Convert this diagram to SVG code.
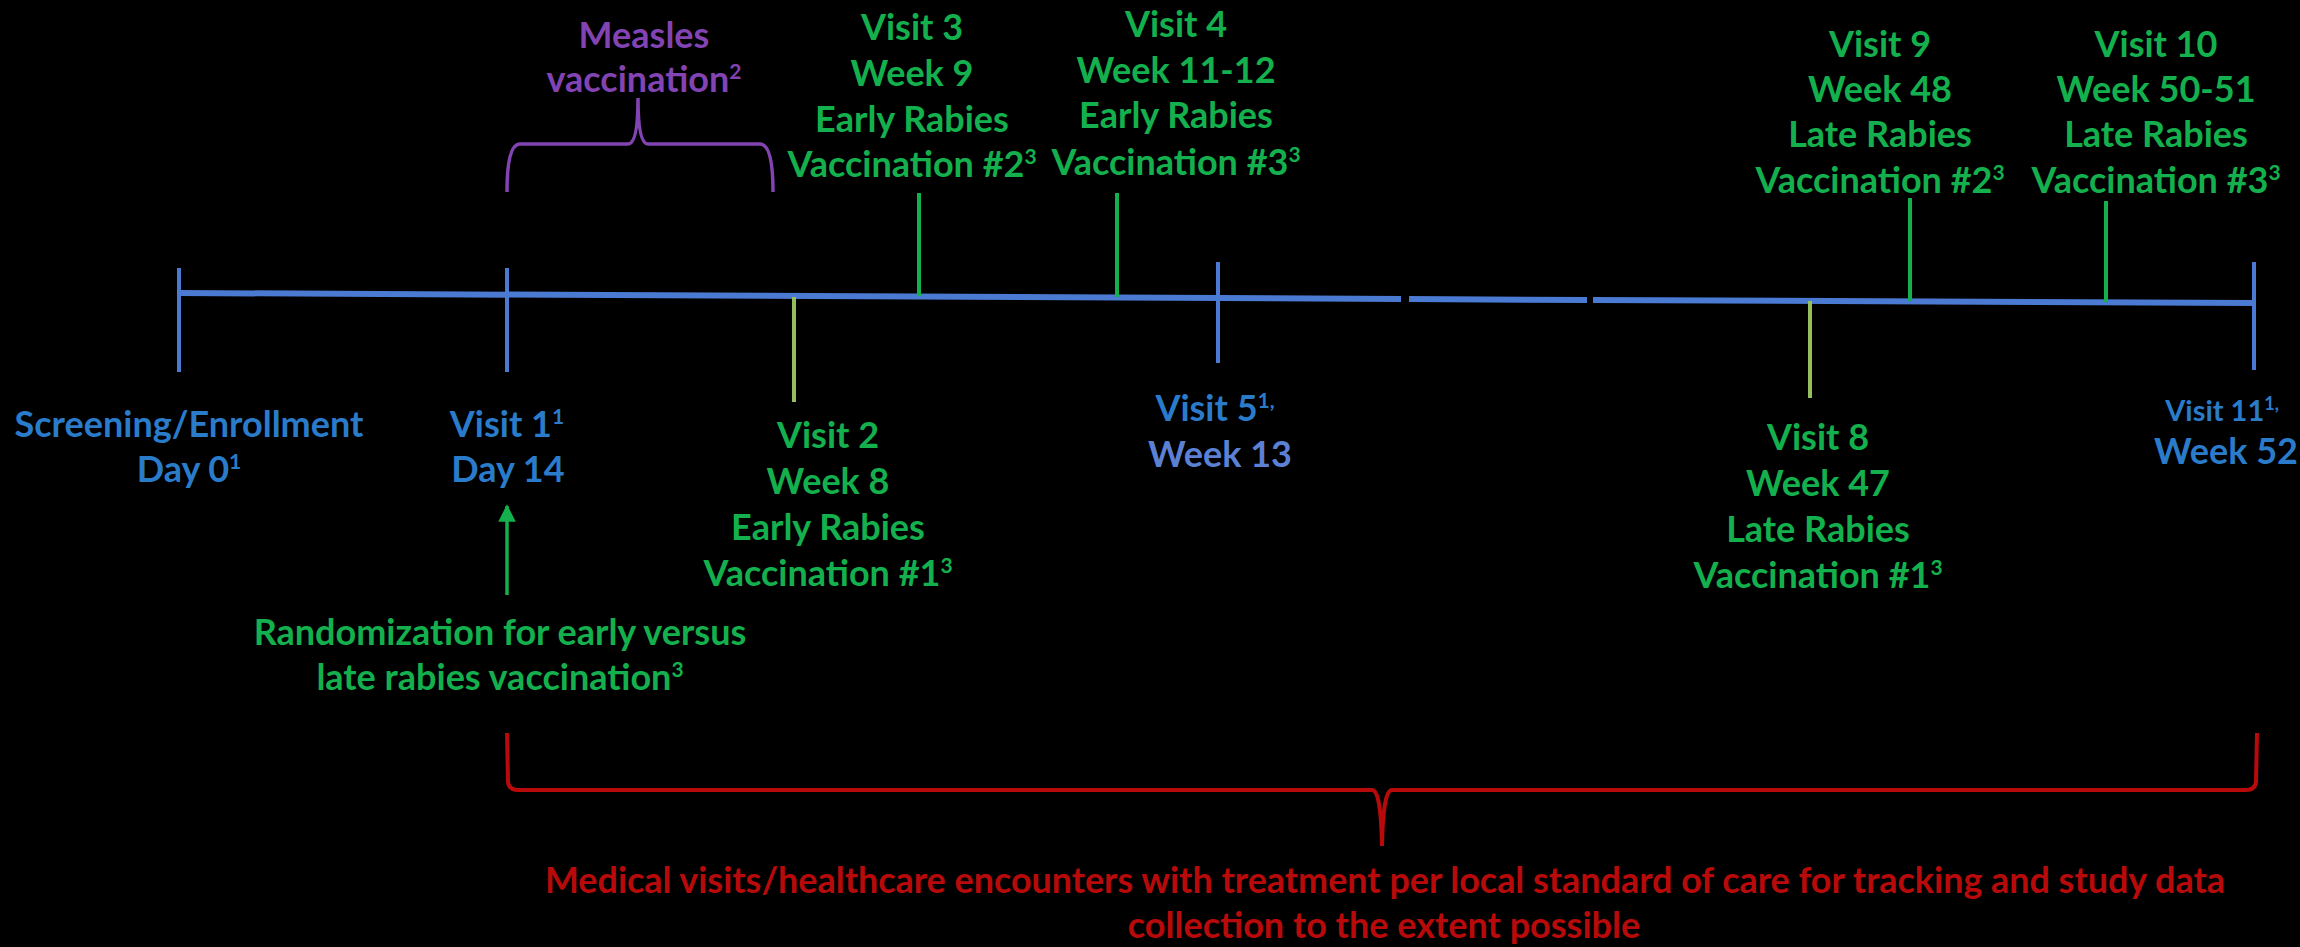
<svg xmlns="http://www.w3.org/2000/svg" width="2300" height="947" viewBox="0 0 2300 947">
<defs>
<style>
text{font-family:Lato,"Open Sans","Liberation Sans",sans-serif;font-weight:bold;font-size:36px;text-anchor:middle}
.g{fill:#14B04E}
.b{fill:#2A7CCB}
.b2{fill:#5B80D4}
.p{fill:#8243B3}
.r{fill:#B80A0A}
.tl{stroke:#4A7AD2;stroke-width:6;fill:none}
.tb{stroke:#4A7AD2;stroke-width:4;fill:none}
.tg{stroke:#14B04E;stroke-width:4;fill:none}
.ty{stroke:#96BE5A;stroke-width:4;fill:none}
.sup{font-size:21px}
</style>
<marker id="ah" viewBox="0 0 10 10" refX="9" refY="5" markerWidth="5" markerHeight="5" orient="auto-start-reverse">
<path d="M0,0 L10,5 L0,10 z" fill="#14B04E"/>
</marker>
</defs>
<rect width="2300" height="947" fill="#000"/>

<g id="connectors">
<line class="tl" x1="179" y1="293" x2="1401" y2="299"/>
<line class="tl" x1="1409" y1="299" x2="1587" y2="300"/>
<line class="tl" x1="1593" y1="300" x2="2254" y2="303"/>
<line class="tb" x1="179" y1="268" x2="179" y2="372"/>
<line class="tb" x1="507" y1="268" x2="507" y2="372"/>
<line class="ty" x1="794" y1="297" x2="794" y2="402"/>
<line class="tg" x1="919" y1="193" x2="919" y2="296"/>
<line class="tg" x1="1117" y1="193" x2="1117" y2="297"/>
<line class="tb" x1="1218" y1="262" x2="1218" y2="363"/>
<line class="ty" x1="1810" y1="301" x2="1810" y2="398"/>
<line class="tg" x1="1910" y1="198" x2="1910" y2="301"/>
<line class="tg" x1="2106" y1="201" x2="2106" y2="302"/>
<line class="tb" x1="2254" y1="262" x2="2254" y2="370"/>
<line x1="507" y1="595" x2="507" y2="506" stroke="#14B04E" stroke-width="3.5" marker-end="url(#ah)"/>
<path d="M507,192 Q507,144 520,144 L628,144 Q638,144 638,98 Q638,144 648,144 L760,144 Q773,144 773,192" fill="none" stroke="#8243B3" stroke-width="3.5"/>
<path d="M507,733 L508,782 Q509,790 518,790 L1372,790 Q1381,790 1382,846 Q1383,790 1392,790 L2246,790 Q2255,790 2256,782 L2257,733" fill="none" stroke="#B80A0A" stroke-width="4"/>
</g>

<g id="measles">
<text class="p" x="644" y="48">Measles</text>
<text class="p" x="644" y="92">vaccination<tspan class="sup" dy="-13">2</tspan></text>
</g>

<g id="screening">
<text class="b" x="189" y="437">Screening/Enrollment</text>
<text class="b" x="189" y="482">Day 0<tspan class="sup" dy="-13">1</tspan></text>
</g>

<g id="visit1">
<text class="b" x="507" y="437">Visit 1<tspan class="sup" dy="-13">1</tspan></text>
<text class="b" x="508" y="482">Day 14</text>
</g>

<g id="randomization">
<text class="g" x="500" y="645">Randomization for early versus</text>
<text class="g" x="500" y="690">late rabies vaccination<tspan class="sup" dy="-13">3</tspan></text>
</g>

<g id="visit2">
<text class="g" x="828" y="448">Visit 2</text>
<text class="g" x="828" y="494">Week 8</text>
<text class="g" x="828" y="540">Early Rabies</text>
<text class="g" x="828" y="586">Vaccination #1<tspan class="sup" dy="-13">3</tspan></text>
</g>

<g id="visit3">
<text class="g" x="912" y="40">Visit 3</text>
<text class="g" x="912" y="86">Week 9</text>
<text class="g" x="912" y="132">Early Rabies</text>
<text class="g" x="912" y="177">Vaccination #2<tspan class="sup" dy="-13">3</tspan></text>
</g>

<g id="visit4">
<text class="g" x="1176" y="37">Visit 4</text>
<text class="g" x="1176" y="83">Week 11-12</text>
<text class="g" x="1176" y="128">Early Rabies</text>
<text class="g" x="1176" y="175">Vaccination #3<tspan class="sup" dy="-13">3</tspan></text>
</g>

<g id="visit5">
<text class="b" x="1215" y="421">Visit 5<tspan class="sup" dy="-13">1,</tspan></text>
<text class="b2" x="1220" y="467">Week 13</text>
</g>

<g id="visit8">
<text class="g" x="1818" y="450">Visit 8</text>
<text class="g" x="1818" y="496">Week 47</text>
<text class="g" x="1818" y="542">Late Rabies</text>
<text class="g" x="1818" y="588">Vaccination #1<tspan class="sup" dy="-13">3</tspan></text>
</g>

<g id="visit9">
<text class="g" x="1880" y="57">Visit 9</text>
<text class="g" x="1880" y="102">Week 48</text>
<text class="g" x="1880" y="147">Late Rabies</text>
<text class="g" x="1880" y="193">Vaccination #2<tspan class="sup" dy="-13">3</tspan></text>
</g>

<g id="visit10">
<text class="g" x="2156" y="57">Visit 10</text>
<text class="g" x="2156" y="102">Week 50-51</text>
<text class="g" x="2156" y="147">Late Rabies</text>
<text class="g" x="2156" y="193">Vaccination #3<tspan class="sup" dy="-13">3</tspan></text>
</g>

<g id="visit11">
<text class="b" x="2222" y="421" style="font-size:29px">Visit 11<tspan class="sup" dy="-11" style="font-size:18px">1,</tspan></text>
<text class="b" x="2226" y="464">Week 52</text>
</g>

<g id="medical">
<text class="r" x="1385" y="893" textLength="1680" lengthAdjust="spacingAndGlyphs">Medical visits/healthcare encounters with treatment per local standard of care for tracking and study data</text>
<text class="r" x="1384" y="938">collection to the extent possible</text>
</g>
</svg>
